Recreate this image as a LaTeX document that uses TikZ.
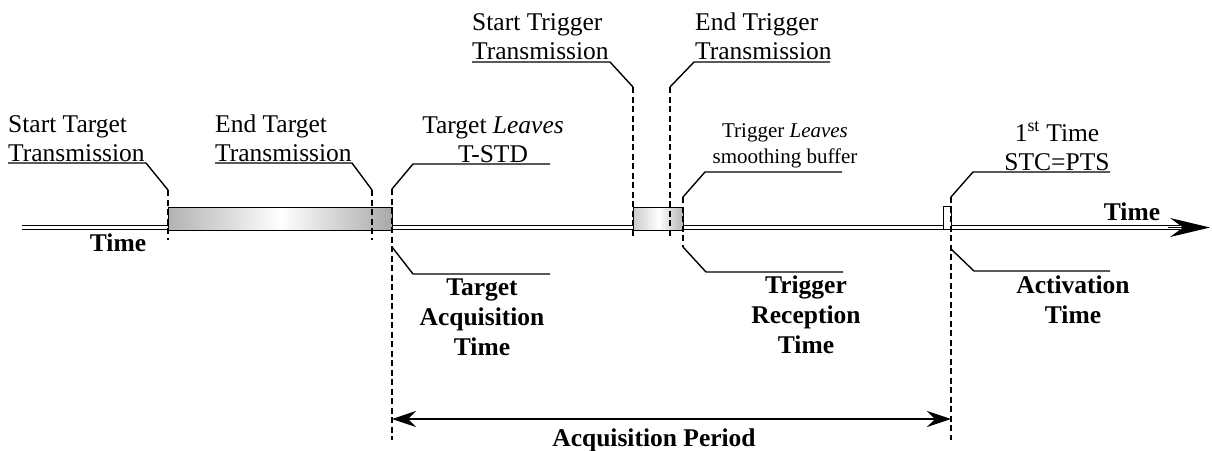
\documentclass[tikz,border=0pt]{standalone}
\usepackage{fontspec}
\setmainfont{Liberation Serif}
\usetikzlibrary{arrows.meta}
\begin{document}
\begin{tikzpicture}[x=1pt,y=-1pt,
  lbl/.style={font=\fontsize{25.5}{29}\selectfont, inner sep=0pt, align=center},
  lbll/.style={font=\fontsize{25.5}{29}\selectfont, inner sep=0pt, align=left},
  blbl/.style={font=\fontsize{25.5}{30}\selectfont\bfseries, inner sep=0pt, align=center},
  slbl/.style={font=\fontsize{21}{26}\selectfont, inner sep=0pt, align=center},
  leader/.style={line width=1.4pt},
  guide/.style={line width=1.3pt, dash pattern=on 6pt off 3.5pt},
  axisline/.style={line width=1.5pt, double, double distance=2.2pt},
  evbox/.style={line width=1.4pt, draw=black},
]
\useasboundingbox (0,0) rectangle (1212,450);

% time axis
\coordinate (ax0) at (22,227.5);
\coordinate (ax1) at (1180,227.5);
\coordinate (axa) at (1168,227.5);
\coordinate (axtip) at (1210,227.5);
\draw[axisline] (ax0) -- (ax1);
\draw[line width=1.5pt, -{Stealth[length=40pt,width=19pt,inset=13pt]}] (axa) -- (axtip);

% event boxes
\node[evbox, minimum width=224pt, minimum height=22.5pt, inner sep=0pt, anchor=north west,
      left color=gray!60, right color=gray!68, middle color=white] (tgtbox) at (168,207) {};
\node[evbox, minimum width=50pt, minimum height=22.5pt, inner sep=0pt, anchor=north west,
      left color=gray!40, right color=gray!60, middle color=white] (trgbox) at (633,207) {};
\node[evbox, minimum width=8pt, minimum height=23pt, inner sep=0pt, anchor=north west,
      fill=white] (actbox) at (943,206) {};

% dashed guides
\coordinate (g1a) at (168,190); \coordinate (g1b) at (168,240);
\coordinate (g2a) at (372,190); \coordinate (g2b) at (372,240);
\coordinate (g3a) at (392,189); \coordinate (g3b) at (392,440);
\coordinate (g4a) at (633,87);  \coordinate (g4b) at (633,238);
\coordinate (g5a) at (670,87);  \coordinate (g5b) at (670,238);
\coordinate (g6a) at (683,197); \coordinate (g6b) at (683,247);
\coordinate (g7a) at (951,197); \coordinate (g7b) at (951,440);
\foreach \g in {1,...,7} {\draw[guide] (g\g a) -- (g\g b);}

% labels
\node[lbll, anchor=base west] (stt) at (8,161) {Start Target\\Transmission};
\node[lbll, anchor=base west] (ett) at (215,161) {End Target\\Transmission};
\node[lbl, anchor=base] (tlt) at (493,162) {Target \textit{Leaves}\\T-STD};
\node[lbll, anchor=base west] (strt) at (472,59) {Start Trigger\\Transmission};
\node[lbll, anchor=base west] (etrt) at (695,59) {End Trigger\\Transmission};
\node[slbl, anchor=base] (tls) at (785,163) {Trigger \textit{Leaves}\\smoothing buffer};
\node[lbl, anchor=base] (stc) at (1057,170) {1\textsuperscript{st} Time\\STC=PTS};
\node[blbl, anchor=base] (tat) at (482,355) {Target\\Acquisition\\Time};
\node[blbl, anchor=base] (trt) at (806,353) {Trigger\\Reception\\Time};
\node[blbl, anchor=base] (act) at (1073,323) {Activation\\Time};
\node[blbl, anchor=base] (timel) at (118,251) {Time};
\node[blbl, anchor=base] (timer) at (1132,220) {Time};
\node[blbl, anchor=base] (acqp) at (654,446) {Acquisition Period};

% leaders
\draw[leader] (8,163) -- (146,163) -- (g1a);
\draw[leader] (215,163) -- (352,163) -- (g2a);
\draw[leader] (550,164) -- (413,164) -- (g3a);
\draw[leader] (472,62) -- (610,62) -- (g4a);
\draw[leader] (830,62) -- (694,62) -- (g5a);
\draw[leader] (842,172) -- (705,172) -- (g6a);
\draw[leader] (1110,172) -- (973,172) -- (g7a);
\draw[leader] (392,247) -- (413,274) -- (550,274);
\draw[leader] (g6b) -- (706,272) -- (843,272);
\draw[leader] (951,249) -- (974,271) -- (1110,271);

% acquisition period
\coordinate (ap0) at (392,419);
\coordinate (ap1) at (951,419);
\draw[line width=1.4pt, {Stealth[length=24pt,width=16pt,inset=8pt]}-{Stealth[length=24pt,width=16pt,inset=8pt]}] (ap0) -- (ap1);
\end{tikzpicture}
\end{document}
